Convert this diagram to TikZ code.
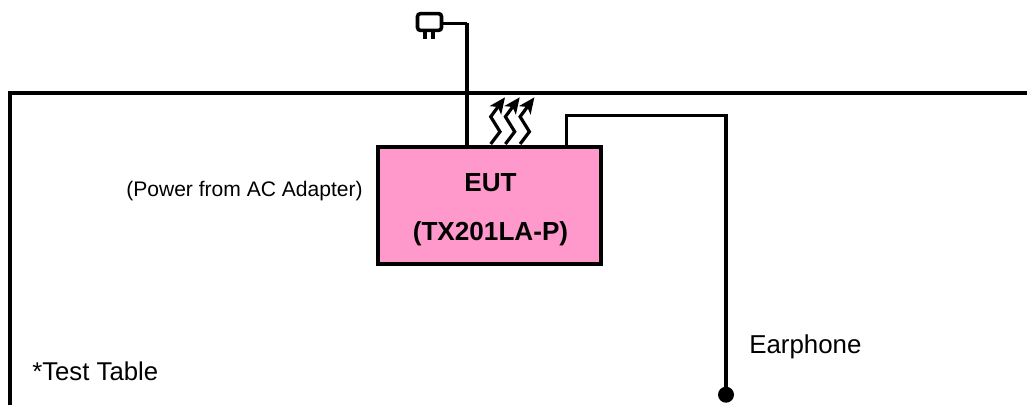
\documentclass[tikz,border=0pt]{standalone}
\usepackage{fontspec}
\setmainfont{Liberation Sans}
\usetikzlibrary{arrows.meta}
\definecolor{eutpink}{RGB}{255,153,204}
\tikzset{
  tableline/.style={draw=black,line width=3pt,line join=miter},
  wire/.style={draw=black,line width=2.7pt,line join=miter},
  thin wire/.style={draw=black,line width=2.4pt},
  eutbox/.style={draw=black,fill=eutpink,line width=3pt,minimum width=167.5pt,minimum height=88pt,inner sep=0pt},
  lbl/.style={inner sep=0pt,anchor=base west},
  eutlbl/.style={inner sep=0pt,anchor=base,font=\fontsize{19.6pt}{22pt}\selectfont\bfseries},
  emit/.style={draw=black,line width=2.4pt,-{Stealth[length=12pt,width=10.5pt,inset=3pt]}}
}
\begin{document}
\begin{tikzpicture}[x=0.75pt,y=-0.75pt]
\useasboundingbox (0,0) rectangle (1027,405);
\coordinate (tl) at (1027,92.8);
\coordinate (tc) at (9.5,92.8);
\coordinate (tb) at (9.5,405);
\draw[tableline] (tl) -- (tc) -- (tb);
\node[eutbox] (eut) at (489.7,205.3) {};
\node[eutlbl] (eutt) at (490.5,191.7) {EUT};
\node[eutlbl] (eutm) at (490.5,240) {(TX201LA-P)};
\node[lbl,font=\fontsize{15.8pt}{18pt}\selectfont] (pw) at (126,196) {(Power from AC Adapter)};
\node[lbl,font=\fontsize{19.3pt}{22pt}\selectfont] (tt) at (32,380.7) {*Test Table};
\node[lbl,font=\fontsize{19.4pt}{22pt}\selectfont] (ep) at (749,353) {Earphone};
% plug
\node[draw=black,line width=2.7pt,rounded corners=2.2pt,minimum width=18pt,minimum height=12.6pt,inner sep=0pt] (plug) at (429.5,22) {};
\coordinate (p1) at (425,31);\coordinate (p1e) at (425,39);
\coordinate (p2) at (433,31);\coordinate (p2e) at (433,39);
\draw[thin wire] (p1) -- (p1e);
\draw[thin wire] (p2) -- (p2e);
\coordinate (cc) at (467,23.5);
\coordinate (ce) at (467,146);
\draw[thin wire] (plug.east |- cc) -- (cc);
\draw[wire] (467,22.5) -- (ce);
% earphone
\coordinate (e0) at (566.5,146);
\coordinate (e1) at (566.5,115.3);
\coordinate (e2) at (726,115.3);
\coordinate (e3) at (726,394);
\draw[wire] (e0) -- (e1) -- (e2) -- (e3);
\node[circle,fill=black,minimum size=12pt,inner sep=0pt] (dot) at (726,394.7) {};
% emissions
\foreach \i in {0,1,2}{
  \begin{scope}[xshift=\i*14.7*0.75pt]
    \draw[emit] (490.7,144) -- (500,131.7) -- (490.7,116.7) -- (505,97.3);
  \end{scope}
}
\end{tikzpicture}
\end{document}
